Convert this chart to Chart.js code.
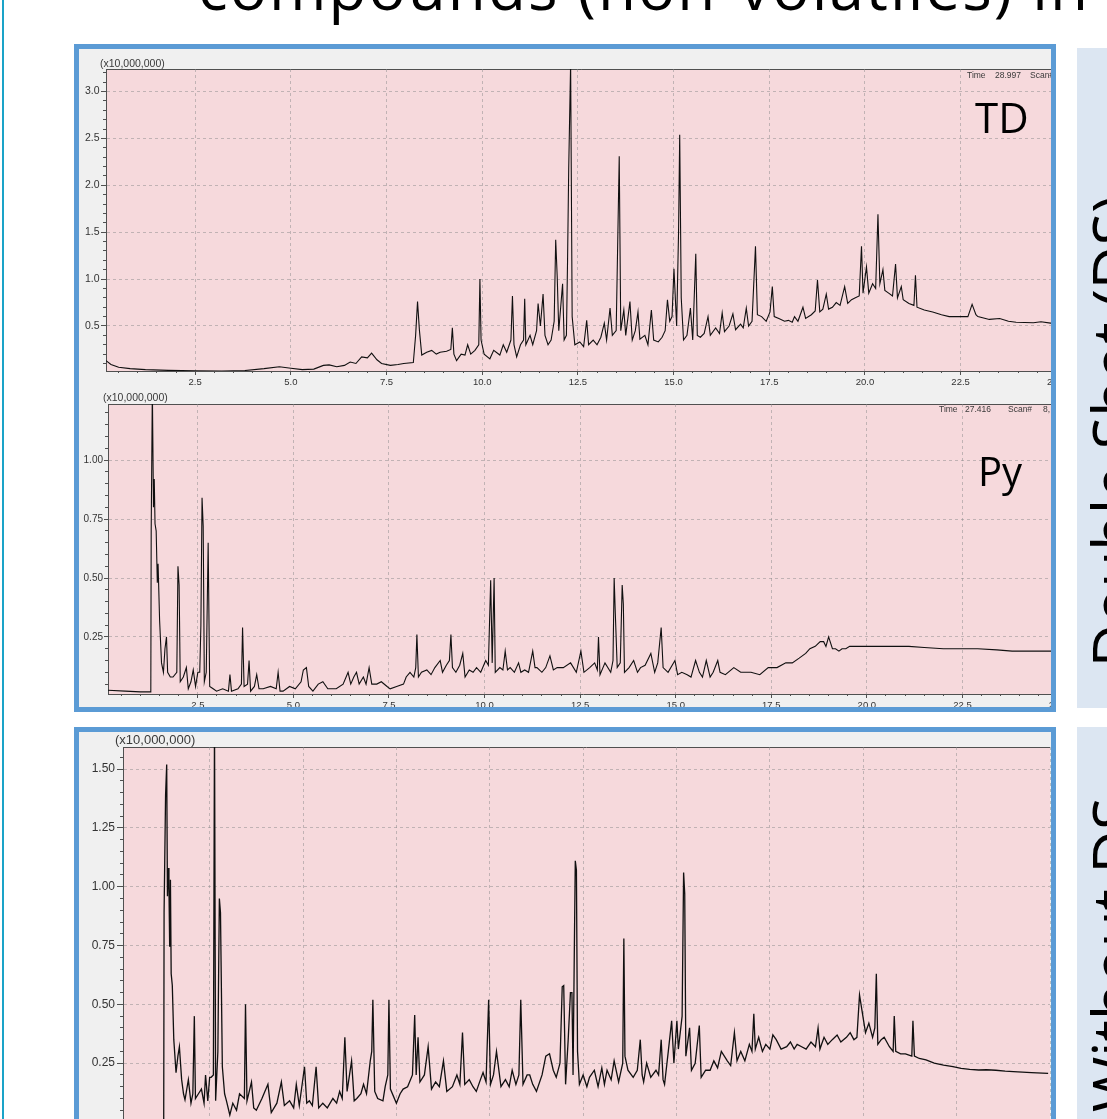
<!DOCTYPE html>
<html>
<head>
<meta charset="utf-8">
<script src="https://cdn.jsdelivr.net/npm/chart.js@4.4.1/dist/chart.umd.min.js"></script>
<style>
  html, body { margin: 0; padding: 0; width: 1107px; height: 1119px; overflow: hidden; background: #fff; }
  .panel { position: absolute; box-sizing: border-box; border: 5px solid #5b9bd5; background: #f0f0f0; overflow: hidden; }
  .panel canvas { position: absolute; }
  .panel svg, .page-svg { position: absolute; }
  .side { position: absolute; background: #dce6f2; }
  .rule { position: absolute; left: 2px; top: 0; width: 2px; height: 1119px; background: #1aa3c8; }
</style>
</head>
<body>
<div class="rule"></div>
<div class="side" style="left:1077px; top:48px; width:60px; height:660px;"></div>
<div class="side" style="left:1077px; top:727px; width:60px; height:460px;"></div>

<div class="panel" id="panelTop" style="left:74px; top:44px; width:982px; height:668px;">
  <canvas id="tdChart" width="1019" height="332" style="left:-13px; top:10px;"></canvas>
  <canvas id="pyChart" width="1017" height="320" style="left:-11px; top:345px;"></canvas>
  <svg width="1107" height="1119" style="left:-79px; top:-49px;">
    <g font-family="Liberation Sans, Arial, sans-serif" fill="#3a3a3a">
      <text x="100" y="67" font-size="10.5">(x10,000,000)</text>
      <text x="967" y="78" font-size="8.5">Time</text>
      <text x="995" y="78" font-size="8.5">28.997</text>
      <text x="1030" y="78" font-size="8.5">Scan#</text>
      <text x="103" y="401" font-size="10.5">(x10,000,000)</text>
      <text x="939" y="412" font-size="8.5">Time</text>
      <text x="965" y="412" font-size="8.5">27.416</text>
      <text x="1008" y="412" font-size="8.5">Scan#</text>
      <text x="1043" y="412" font-size="8.5">8,</text>
    </g>
    <g font-family="Open Sans, sans-serif" fill="#000">
      <text x="975" y="133" font-size="42">TD</text>
      <text x="978" y="486" font-size="40">Py</text>
    </g>
  </svg>
</div>

<div class="panel" id="panelBottom" style="left:74px; top:727px; width:982px; height:420px;">
  <canvas id="dsChart" width="994" height="405" style="left:4px; top:5px;"></canvas>
  <svg width="1107" height="1119" style="left:-79px; top:-732px;">
    <text x="115" y="744" font-size="13" font-family="Liberation Sans, Arial, sans-serif" fill="#3a3a3a">(x10,000,000)</text>
  </svg>
</div>

<svg class="page-svg" width="1107" height="1119" style="left:0; top:0;">
  <g font-family="Open Sans, sans-serif" fill="#000">
    <text x="198" y="10" font-size="62" textLength="890" lengthAdjust="spacing">compounds (non-volatiles) in</text>
    <text transform="translate(1136,195) rotate(-90)" text-anchor="end" font-size="60">Double Shot (DS)</text>
    <text transform="translate(1136,797) rotate(-90)" text-anchor="end" font-size="60">Without DS</text>
  </g>
</svg>

<script>
// tick labels
const timeTicks = [2.5, 5.0, 7.5, 10.0, 12.5, 15.0, 17.5, 20.0, 22.5, 25.0];
const tdTicks = [0.5, 1.0, 1.5, 2.0, 2.5, 3.0];
const pyTicks = [0.25, 0.50, 0.75, 1.00];
const dsTicks = [0.25, 0.50, 0.75, 1.00, 1.25, 1.50];

// traces: [retention time (min), intensity (x10,000,000)]
const tdTrace = [
  [0.17,0.13],[0.3,0.09],[0.5,0.06],[0.8,0.045],[1.2,0.035],[1.8,0.027],[2.5,0.022],[3.2,0.02],
  [3.8,0.025],[4.3,0.045],[4.7,0.065],[5.0,0.05],[5.3,0.035],[5.6,0.04],[5.85,0.08],[6.0,0.085],
  [6.2,0.065],[6.4,0.08],[6.55,0.115],[6.7,0.1],[6.85,0.17],[7.0,0.16],[7.11,0.21],[7.25,0.14],
  [7.37,0.1],[7.6,0.08],[7.8,0.09],[7.95,0.1],[8.2,0.11],[8.26,0.4],[8.31,0.76],[8.36,0.45],
  [8.42,0.19],[8.55,0.22],[8.68,0.24],[8.8,0.2],[8.9,0.22],[9.07,0.23],[9.18,0.25],[9.22,0.48],
  [9.26,0.2],[9.33,0.13],[9.45,0.2],[9.55,0.19],[9.62,0.3],[9.7,0.2],[9.81,0.24],[9.91,0.3],
  [9.94,1.0],[9.97,0.35],[10.05,0.2],[10.2,0.15],[10.3,0.24],[10.46,0.19],[10.55,0.3],[10.64,0.22],
  [10.75,0.35],[10.79,0.82],[10.83,0.3],[10.9,0.17],[11.0,0.3],[11.08,0.35],[11.11,0.79],[11.14,0.3],
  [11.25,0.4],[11.32,0.3],[11.42,0.45],[11.46,0.74],[11.52,0.5],[11.59,0.84],[11.64,0.4],[11.72,0.3],
  [11.8,0.35],[11.88,0.55],[11.92,1.42],[11.96,1.02],[12.0,0.45],[12.1,0.95],[12.14,0.35],[12.2,0.4],
  [12.23,1.2],[12.26,2.18],[12.31,3.3],[12.35,0.6],[12.42,0.3],[12.55,0.33],[12.65,0.28],[12.73,0.56],
  [12.78,0.3],[12.9,0.35],[13.0,0.3],[13.1,0.38],[13.19,0.53],[13.25,0.35],[13.34,0.69],[13.4,0.4],
  [13.5,0.45],[13.58,2.31],[13.62,0.45],[13.7,0.67],[13.75,0.4],[13.86,0.76],[13.92,0.35],[14.0,0.45],
  [14.07,0.65],[14.12,0.36],[14.25,0.4],[14.33,0.3],[14.42,0.67],[14.48,0.35],[14.6,0.33],[14.7,0.38],
  [14.78,0.45],[14.84,0.78],[14.9,0.55],[14.96,0.6],[15.01,1.11],[15.08,0.5],[15.13,1.5],[15.16,2.54],
  [15.2,0.8],[15.26,0.35],[15.35,0.4],[15.44,0.69],[15.5,0.35],[15.58,1.27],[15.62,0.4],[15.7,0.38],
  [15.8,0.42],[15.9,0.6],[15.96,0.4],[16.1,0.48],[16.2,0.42],[16.27,0.64],[16.33,0.44],[16.45,0.5],
  [16.55,0.63],[16.62,0.46],[16.75,0.52],[16.82,0.48],[16.9,0.69],[16.96,0.5],[17.05,0.55],[17.14,1.35],
  [17.19,0.62],[17.3,0.6],[17.42,0.55],[17.52,0.65],[17.58,0.92],[17.63,0.6],[17.75,0.58],[17.9,0.55],
  [18.0,0.56],[18.1,0.54],[18.16,0.6],[18.25,0.55],[18.38,0.7],[18.45,0.58],[18.6,0.62],[18.7,0.66],
  [18.76,0.99],[18.82,0.65],[18.9,0.68],[18.99,0.84],[19.05,0.68],[19.15,0.7],[19.25,0.75],[19.35,0.72],
  [19.47,0.92],[19.55,0.74],[19.65,0.78],[19.75,0.8],[19.85,0.82],[19.91,1.35],[19.95,0.85],[20.04,1.13],
  [20.1,0.85],[20.2,0.95],[20.28,0.9],[20.34,1.69],[20.39,0.95],[20.47,1.1],[20.52,0.88],[20.62,0.85],
  [20.72,0.82],[20.8,1.16],[20.85,0.8],[20.95,0.92],[21.0,0.78],[21.15,0.74],[21.28,0.72],[21.32,1.04],
  [21.36,0.7],[21.55,0.67],[21.77,0.65],[22.0,0.62],[22.2,0.6],[22.45,0.6],[22.69,0.6],[22.8,0.73],
  [22.9,0.62],[22.95,0.6],[23.25,0.57],[23.52,0.58],[23.75,0.55],[23.95,0.54],[24.4,0.535],[24.6,0.545],
  [24.85,0.53],[25.0,0.53]
];

const pyTrace = [
  [0.15,0.024],[0.6,0.02],[1.0,0.017],[1.27,0.017],[1.28,0.7],[1.31,1.3],[1.34,0.8],[1.36,0.92],
  [1.38,0.73],[1.41,0.7],[1.44,0.48],[1.46,0.56],[1.5,0.32],[1.55,0.14],[1.6,0.1],[1.64,0.2],
  [1.68,0.25],[1.71,0.1],[1.78,0.08],[1.85,0.08],[1.95,0.1],[1.98,0.55],[2.01,0.47],[2.04,0.06],
  [2.12,0.08],[2.2,0.12],[2.25,0.03],[2.32,0.06],[2.38,0.11],[2.44,0.04],[2.5,0.1],[2.55,0.1],
  [2.58,0.3],[2.61,0.84],[2.64,0.72],[2.67,0.06],[2.72,0.1],[2.77,0.65],[2.81,0.04],[2.9,0.03],
  [2.99,0.02],[3.15,0.03],[3.3,0.02],[3.34,0.09],[3.38,0.02],[3.55,0.03],[3.64,0.05],[3.67,0.29],
  [3.71,0.04],[3.8,0.05],[3.84,0.15],[3.88,0.02],[3.98,0.04],[4.04,0.09],[4.1,0.03],[4.21,0.03],
  [4.4,0.04],[4.55,0.03],[4.6,0.1],[4.65,0.02],[4.73,0.02],[4.9,0.04],[5.05,0.03],[5.2,0.06],
  [5.26,0.11],[5.34,0.12],[5.4,0.04],[5.51,0.02],[5.65,0.05],[5.77,0.06],[5.9,0.03],[6.12,0.03],
  [6.3,0.05],[6.43,0.1],[6.5,0.05],[6.58,0.08],[6.65,0.1],[6.72,0.05],[6.83,0.08],[6.9,0.05],
  [6.98,0.12],[7.05,0.05],[7.18,0.05],[7.3,0.06],[7.45,0.04],[7.53,0.03],[7.7,0.04],[7.88,0.05],
  [7.95,0.08],[8.05,0.1],[8.15,0.08],[8.2,0.12],[8.23,0.26],[8.27,0.08],[8.35,0.1],[8.49,0.11],
  [8.6,0.09],[8.7,0.12],[8.84,0.15],[8.9,0.1],[9.0,0.13],[9.08,0.15],[9.12,0.26],[9.16,0.12],
  [9.25,0.1],[9.35,0.13],[9.43,0.18],[9.49,0.08],[9.6,0.11],[9.7,0.1],[9.79,0.12],[9.9,0.1],
  [10.03,0.15],[10.1,0.13],[10.16,0.49],[10.2,0.14],[10.25,0.5],[10.28,0.1],[10.4,0.12],[10.48,0.11],
  [10.54,0.19],[10.6,0.11],[10.67,0.12],[10.78,0.1],[10.89,0.14],[10.95,0.1],[11.05,0.11],[11.15,0.1],
  [11.26,0.19],[11.32,0.12],[11.37,0.12],[11.5,0.1],[11.6,0.12],[11.71,0.17],[11.8,0.11],[11.9,0.12],
  [12.06,0.12],[12.25,0.14],[12.4,0.1],[12.52,0.19],[12.6,0.1],[12.75,0.12],[12.88,0.14],[12.95,0.11],
  [12.98,0.25],[13.02,0.09],[13.15,0.14],[13.3,0.1],[13.36,0.15],[13.39,0.5],[13.42,0.35],[13.47,0.12],
  [13.55,0.14],[13.6,0.47],[13.63,0.39],[13.66,0.1],[13.78,0.12],[13.9,0.15],[14.0,0.1],[14.08,0.12],
  [14.2,0.13],[14.35,0.18],[14.45,0.1],[14.53,0.14],[14.62,0.29],[14.67,0.12],[14.8,0.1],[14.98,0.15],
  [15.05,0.09],[15.16,0.1],[15.3,0.09],[15.4,0.08],[15.52,0.15],[15.62,0.1],[15.7,0.08],[15.8,0.15],
  [15.9,0.08],[15.98,0.1],[16.1,0.15],[16.16,0.1],[16.3,0.09],[16.52,0.12],[16.7,0.1],[16.97,0.1],
  [17.2,0.09],[17.42,0.12],[17.65,0.12],[17.88,0.14],[18.05,0.14],[18.23,0.16],[18.4,0.18],[18.51,0.2],
  [18.65,0.21],[18.78,0.23],[18.87,0.23],[18.93,0.21],[19.0,0.25],[19.04,0.23],[19.1,0.2],[19.18,0.2],
  [19.27,0.19],[19.35,0.2],[19.45,0.2],[19.55,0.21],[19.8,0.21],[20.2,0.21],[20.6,0.21],[21.1,0.21],
  [21.5,0.205],[22.0,0.2],[22.5,0.2],[22.9,0.2],[23.4,0.195],[23.8,0.19],[24.3,0.19],[24.85,0.19],
  [25.0,0.19]
];

const dsTrace = [
  [0.18,0.01],[0.8,0.01],[1.27,0.01],[1.28,0.89],[1.32,1.39],[1.35,1.52],[1.37,0.96],[1.39,1.08],
  [1.41,1.0],[1.43,0.745],[1.45,1.03],[1.47,0.63],[1.5,0.58],[1.54,0.35],[1.6,0.21],[1.65,0.28],
  [1.69,0.32],[1.75,0.18],[1.8,0.12],[1.84,0.094],[1.93,0.18],[2.0,0.08],[2.05,0.12],[2.09,0.45],
  [2.12,0.1],[2.2,0.12],[2.28,0.14],[2.35,0.08],[2.39,0.2],[2.45,0.09],[2.5,0.19],[2.54,0.19],
  [2.6,0.2],[2.63,1.7],[2.66,0.09],[2.72,0.3],[2.76,0.95],[2.79,0.89],[2.84,0.235],[2.9,0.12],
  [2.95,0.09],[3.04,0.03],[3.12,0.08],[3.22,0.05],[3.3,0.12],[3.43,0.1],[3.46,0.5],[3.5,0.09],
  [3.62,0.17],[3.68,0.06],[3.75,0.05],[3.9,0.1],[4.06,0.16],[4.15,0.04],[4.3,0.08],[4.42,0.17],
  [4.5,0.07],[4.64,0.09],[4.75,0.06],[4.82,0.16],[4.9,0.07],[5.04,0.235],[5.1,0.08],[5.17,0.09],
  [5.25,0.07],[5.35,0.235],[5.42,0.06],[5.53,0.08],[5.65,0.06],[5.8,0.1],[5.9,0.08],[5.98,0.13],
  [6.05,0.1],[6.12,0.36],[6.18,0.13],[6.3,0.26],[6.37,0.09],[6.44,0.1],[6.55,0.12],[6.62,0.16],
  [6.7,0.12],[6.8,0.26],[6.84,0.3],[6.87,0.52],[6.92,0.13],[7.0,0.1],[7.14,0.09],[7.2,0.15],
  [7.27,0.2],[7.3,0.52],[7.34,0.14],[7.5,0.08],[7.6,0.12],[7.68,0.14],[7.8,0.15],[7.93,0.2],
  [7.99,0.455],[8.03,0.2],[8.08,0.36],[8.13,0.17],[8.25,0.2],[8.35,0.32],[8.44,0.14],[8.55,0.17],
  [8.65,0.15],[8.76,0.26],[8.85,0.13],[9.0,0.15],[9.12,0.2],[9.2,0.16],[9.27,0.38],[9.33,0.16],
  [9.45,0.18],[9.55,0.15],[9.64,0.13],[9.75,0.18],[9.82,0.21],[9.9,0.17],[9.97,0.52],[10.02,0.16],
  [10.1,0.2],[10.18,0.3],[10.3,0.15],[10.42,0.18],[10.52,0.15],[10.6,0.22],[10.7,0.16],[10.78,0.2],
  [10.83,0.52],[10.89,0.16],[11.0,0.2],[11.07,0.2],[11.15,0.16],[11.25,0.13],[11.4,0.2],[11.5,0.28],
  [11.6,0.29],[11.7,0.22],[11.78,0.19],[11.88,0.25],[11.94,0.575],[11.98,0.58],[12.03,0.16],[12.1,0.35],
  [12.16,0.55],[12.2,0.55],[12.23,0.2],[12.27,0.82],[12.29,1.11],[12.32,1.07],[12.35,0.3],[12.4,0.16],
  [12.5,0.2],[12.6,0.15],[12.67,0.19],[12.8,0.22],[12.9,0.15],[13.0,0.23],[13.07,0.16],[13.14,0.22],
  [13.25,0.18],[13.33,0.26],[13.45,0.17],[13.56,0.25],[13.59,0.78],[13.62,0.28],[13.7,0.22],[13.84,0.19],
  [13.95,0.22],[14.03,0.35],[14.08,0.2],[14.12,0.17],[14.2,0.25],[14.31,0.19],[14.45,0.22],[14.52,0.2],
  [14.59,0.35],[14.64,0.18],[14.68,0.16],[14.78,0.3],[14.87,0.43],[14.93,0.25],[15.01,0.43],[15.05,0.31],
  [15.15,0.45],[15.19,1.06],[15.22,0.97],[15.25,0.28],[15.35,0.4],[15.4,0.22],[15.5,0.25],[15.61,0.41],
  [15.66,0.19],[15.78,0.22],[15.9,0.22],[16.0,0.26],[16.1,0.23],[16.2,0.3],[16.36,0.26],[16.45,0.24],
  [16.55,0.38],[16.62,0.26],[16.72,0.3],[16.83,0.26],[16.95,0.33],[17.02,0.3],[17.07,0.46],[17.11,0.31],
  [17.2,0.36],[17.3,0.3],[17.39,0.33],[17.5,0.31],[17.58,0.37],[17.67,0.35],[17.8,0.31],[17.95,0.32],
  [18.05,0.34],[18.15,0.31],[18.23,0.33],[18.35,0.32],[18.47,0.31],[18.6,0.34],[18.72,0.32],[18.79,0.4],
  [18.84,0.31],[18.95,0.36],[19.05,0.33],[19.17,0.35],[19.3,0.37],[19.4,0.34],[19.55,0.36],[19.65,0.38],
  [19.75,0.35],[19.83,0.36],[19.9,0.54],[19.96,0.48],[20.06,0.38],[20.15,0.42],[20.25,0.36],[20.31,0.4],
  [20.35,0.63],[20.39,0.33],[20.48,0.35],[20.56,0.36],[20.7,0.32],[20.8,0.3],[20.83,0.45],[20.87,0.3],
  [21.0,0.29],[21.13,0.29],[21.3,0.28],[21.33,0.43],[21.37,0.28],[21.5,0.27],[21.68,0.264],[21.9,0.25],
  [22.15,0.242],[22.4,0.235],[22.62,0.228],[22.85,0.224],[23.09,0.221],[23.3,0.222],[23.55,0.22],[23.8,0.216],
  [24.02,0.214],[24.5,0.21],[24.95,0.207]
];

const AXIS = '#505050';
const GRID = 'rgba(140,140,140,0.5)';
const PLOT_BG = '#f6d9dc';
const LABEL = '#333333';

// pink plot background and top frame line
const plotFrame = {
  id: 'plotFrame',
  beforeDraw(chart) {
    const a = chart.chartArea;
    const ctx = chart.ctx;
    ctx.save();
    ctx.fillStyle = PLOT_BG;
    ctx.fillRect(a.left, a.top, a.right - a.left, a.bottom - a.top);
    ctx.strokeStyle = AXIS;
    ctx.lineWidth = 1;
    ctx.beginPath();
    ctx.moveTo(a.left, Math.round(a.top) + 0.5);
    ctx.lineTo(a.right, Math.round(a.top) + 0.5);
    ctx.stroke();
    ctx.restore();
  }
};

function buildChart(canvasId, trace, o) {
  const font = (size) => ({ family: 'Liberation Sans, Arial, sans-serif', size: size });
  new Chart(document.getElementById(canvasId), {
    type: 'line',
    data: {
      datasets: [{
        data: trace.map(p => ({ x: p[0], y: p[1] })),
        borderColor: '#101010',
        borderWidth: o.lineWidth,
        pointRadius: 0,
        tension: 0,
        fill: false
      }]
    },
    options: {
      responsive: false,
      animation: false,
      events: [],
      layout: { padding: { top: 10, right: o.padRight, bottom: 0, left: 0 } },
      plugins: { legend: { display: false }, tooltip: { enabled: false } },
      scales: {
        x: {
          type: 'linear', position: 'bottom', weight: 1, min: o.xMin, max: 25,
          afterBuildTicks: s => { s.ticks = timeTicks.map(v => ({ value: v })); },
          afterFit: s => { s.height = 20; },
          ticks: { color: LABEL, font: font(o.xFont), padding: 2, maxRotation: 0, autoSkip: false,
                   callback: v => v.toFixed(1) },
          grid: { color: GRID, tickColor: AXIS, tickLength: 4, tickBorderDash: [] },
          border: { color: AXIS, dash: [3, 3] }
        },
        xMinor: {
          type: 'linear', position: 'bottom', weight: 0, min: o.xMin, max: 25,
          afterFit: s => { s.height = 0; },
          ticks: { display: false, stepSize: 0.5, includeBounds: false },
          grid: { drawOnChartArea: false, color: AXIS, tickColor: AXIS, tickLength: 2 },
          border: { display: false }
        },
        y: {
          type: 'linear', position: 'left', weight: 1, min: o.yMin, max: o.yMax,
          afterBuildTicks: s => { s.ticks = o.yTicks.map(v => ({ value: v })); },
          afterFit: s => { s.width = o.yWidth; },
          ticks: { color: LABEL, font: font(o.yFont), padding: o.yPad, autoSkip: false,
                   callback: v => v.toFixed(o.dec) },
          grid: { color: GRID, tickColor: AXIS, tickLength: o.yTick, tickBorderDash: [] },
          border: { color: AXIS, dash: [3, 3] }
        },
        yMinor: {
          type: 'linear', position: 'left', weight: 0, min: o.yMin, max: o.yMax,
          afterFit: s => { s.width = 0; },
          ticks: { display: false, stepSize: o.minorStep, includeBounds: false },
          grid: { drawOnChartArea: false, color: AXIS, tickColor: AXIS, tickLength: 3 },
          border: { display: false }
        }
      }
    },
    plugins: [plotFrame]
  });
}

buildChart('tdChart', tdTrace, {
  xMin: 0.17, yMin: 0.02, yMax: 3.24, yTicks: tdTicks, dec: 1, minorStep: 0.1,
  yWidth: 40, padRight: 28.7, yFont: 10.5, xFont: 9.5, yPad: 1.5, yTick: 5, lineWidth: 1.1
});
buildChart('pyChart', pyTrace, {
  xMin: 0.15, yMin: 0.008, yMax: 1.238, yTicks: pyTicks, dec: 2, minorStep: 0.05,
  yWidth: 40, padRight: 27, yFont: 10, xFont: 9.5, yPad: 1, yTick: 4, lineWidth: 1.1
});
buildChart('dsChart', dsTrace, {
  xMin: 0.18, yMin: 0, yMax: 1.594, yTicks: dsTicks, dec: 2, minorStep: 0.05,
  yWidth: 40, padRight: 27, yFont: 12, xFont: 11, yPad: 2, yTick: 6, lineWidth: 1.3
});
</script>
</body>
</html>
